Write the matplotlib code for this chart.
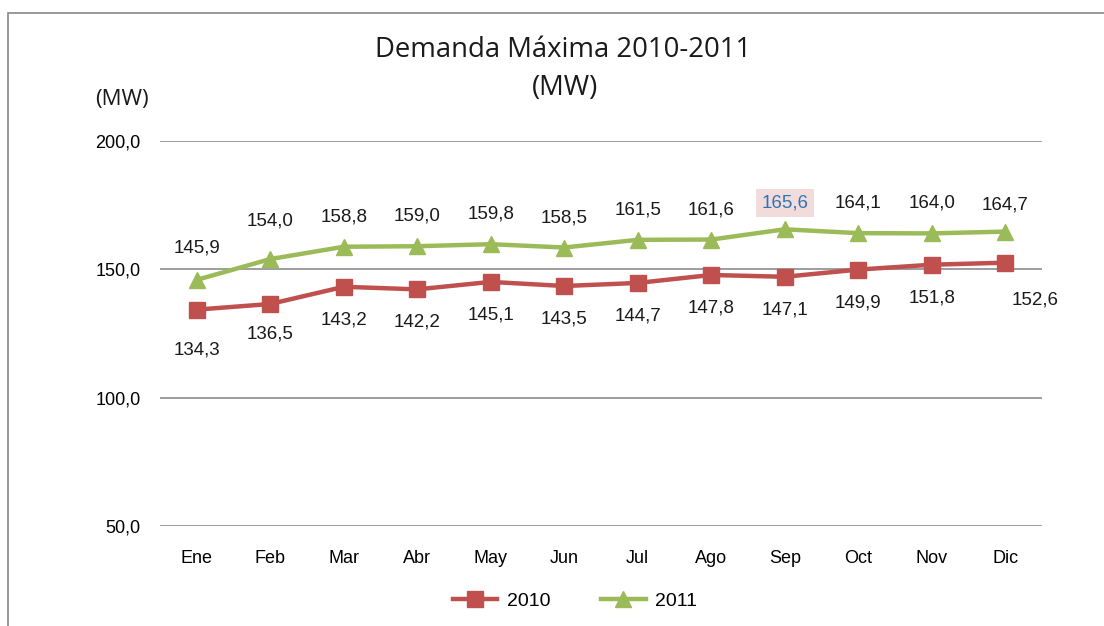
import matplotlib
matplotlib.use("Agg")
import matplotlib.pyplot as plt
from matplotlib.patches import Rectangle
from matplotlib import font_manager as fm

months = ["Ene", "Feb", "Mar", "Abr", "May", "Jun", "Jul", "Ago", "Sep", "Oct", "Nov", "Dic"]
d2010 = [134.3, 136.5, 143.2, 142.2, 145.1, 143.5, 144.7, 147.8, 147.1, 149.9, 151.8, 152.6]
d2011 = [145.9, 154.0, 158.8, 159.0, 159.8, 158.5, 161.5, 161.6, 165.6, 164.1, 164.0, 164.7]
yticks = [50, 100, 150, 200]

names = {f.name for f in fm.fontManager.ttflist}
lab_font = "Liberation Sans Narrow" if "Liberation Sans Narrow" in names else "Liberation Sans"
title_font = "Open Sans"

W, H = 1104, 626
fig = plt.figure(figsize=(W / 100, H / 100), dpi=100)
ax = fig.add_axes([160 / W, 1 - 526 / H, (1042 - 160) / W, (526 - 141) / H])

red = "#C0504D"
green = "#9BBB59"
x = list(range(len(months)))
ax.plot(x, d2010, color=red, lw=3.2, marker="s", ms=11, label="2010", zorder=3)
ax.plot(x, d2011, color=green, lw=3.2, marker="^", ms=12, label="2011", zorder=3)

ax.set_xlim(-0.5, 11.5)
ax.set_ylim(50, 200)
ax.set_yticks(yticks)
ax.set_yticklabels([f"{v:.1f}".replace(".", ",") for v in yticks], fontsize=13, family=lab_font)
ax.set_xticks(x)
ax.set_xticklabels(months, fontsize=13, family=lab_font)
ax.tick_params(axis="y", length=0, pad=14)
ax.tick_params(axis="x", length=0, pad=17)
ax.grid(axis="y", color="#8C8C8C", lw=1.2)
for s in ax.spines.values():
    s.set_visible(False)

fmt = lambda v: f"{v:.1f}".replace(".", ",")
off2010 = [(0, -40), (0, -30), (0, -33), (0, -33), (0, -33), (0, -33), (0, -33), (0, -33), (0, -33), (0, -33), (0, -33), (30, -37)]
off2011 = [(0, 32), (0, 38), (0, 30), (0, 30), (0, 30), (0, 30), (0, 30), (0, 30), (0, 26), (0, 30), (0, 30), (0, 27)]
for i, v in enumerate(d2010):
    ax.annotate(fmt(v), (i, v), xytext=off2010[i], textcoords="offset pixels",
                ha="center", va="center", fontsize=13.5, family=lab_font, color="#1a1a1a")
for i, v in enumerate(d2011):
    if i == 8:
        ax.annotate(fmt(v), (i, v), xytext=off2011[i], textcoords="offset pixels",
                    ha="center", va="center", fontsize=13.5, family=lab_font, color="#2E75B6",
                    bbox=dict(boxstyle="square,pad=0.3", fc="#F2DCDB", ec="none"))
    else:
        ax.annotate(fmt(v), (i, v), xytext=off2011[i], textcoords="offset pixels",
                    ha="center", va="center", fontsize=13.5, family=lab_font, color="#1a1a1a")

fig.text(563 / W, 1 - 50 / H, "Demanda Máxima 2010-2011", ha="center", va="center",
         fontsize=19.8, family=title_font, color="#1a1a1a")
fig.text(565 / W, 1 - 88 / H, "(MW)", ha="center", va="center",
         fontsize=19.8, family=title_font, color="#1a1a1a")
fig.text(122 / W, 1 - 100 / H, "(MW)", ha="center", va="center",
         fontsize=16, family=title_font, color="#1a1a1a")

leg = fig.legend(loc="center", bbox_to_anchor=(575 / W, 1 - 601 / H), ncol=2, frameon=False,
                 prop={"family": lab_font, "size": 14}, handlelength=2.3, columnspacing=2.6,
                 handletextpad=0.5)

# outer frame (left and top edges visible)
fig.patches.append(Rectangle((8 / W, -0.1), 1.2, 1 - 13 / H + 0.1, transform=fig.transFigure,
                             fill=False, ec="#888888", lw=1.2))

fig.savefig("out.png", dpi=100)
